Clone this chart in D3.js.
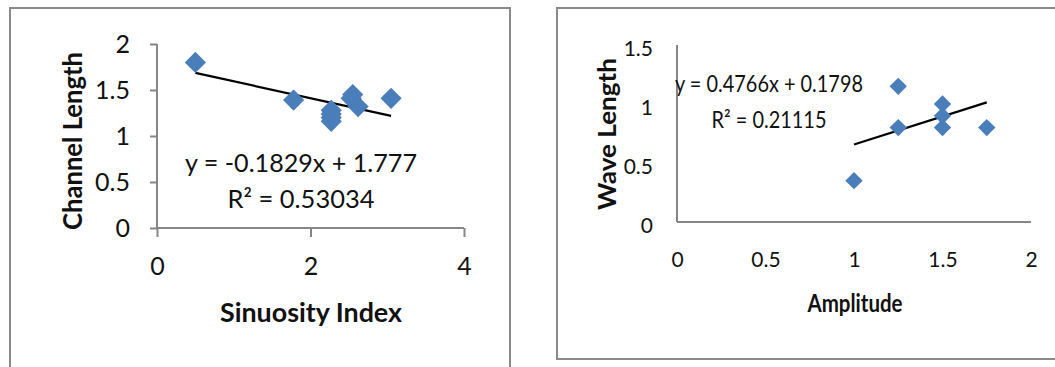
<!DOCTYPE html>
<html>
<head>
<meta charset="utf-8">
<script src="https://cdn.jsdelivr.net/npm/d3@7"></script>
<style>
  html, body { margin: 0; padding: 0; background: #fff; }
  svg { display: block; font-family: Lato, "Open Sans", sans-serif; }
</style>
</head>
<body>
<svg id="chart" width="1055" height="367"></svg>
<script>
// ---- Left chart data ----
const sinuosityIndex = [0.5, 1.78, 2.27, 2.27, 2.27, 2.27, 2.55, 2.53, 2.62, 3.05];
const channelLength  = [1.8, 1.39, 1.28, 1.24, 1.2, 1.16, 1.45, 1.41, 1.32, 1.41];
const leftXTicks = [0, 2, 4];
const leftYTicks = [0, 0.5, 1, 1.5, 2];
const leftTrend = [-0.1829, 1.777]; // slope, intercept
const leftEqText = ["y = -0.1829x + 1.777", "R² = 0.53034"];

// ---- Right chart data ----
const amplitude  = [1, 1.25, 1.25, 1.5, 1.5, 1.5, 1.75];
const waveLength = [0.35, 1.15, 0.8, 1.0, 0.9, 0.8, 0.8];
const rightXTicks = [0, 0.5, 1, 1.5, 2];
const rightYTicks = [0, 0.5, 1, 1.5];
const rightTrend = [0.4766, 0.1798];
const rightEqText = ["y = 0.4766x + 0.1798", "R² = 0.21115"];

const svg = d3.select("#chart");
svg.append("rect").attr("width", 1055).attr("height", 367).attr("fill", "#fff");

const axisColor = "#868686";
const markerColor = "#4a7ebb";
const textColor = "#111";

function panel(cfg) {
  const g = svg.append("g");
  g.append("rect")
    .attr("x", cfg.frame[0]).attr("y", cfg.frame[1])
    .attr("width", cfg.frame[2]).attr("height", cfg.frame[3])
    .attr("fill", "none").attr("stroke", "#8a8a8a").attr("stroke-width", 2);

  const x = d3.scaleLinear().domain(cfg.xDomain).range(cfg.xRange);
  const y = d3.scaleLinear().domain(cfg.yDomain).range(cfg.yRange);

  const xa = g.append("g").attr("transform", `translate(0,${cfg.yRange[0]})`)
    .call(d3.axisBottom(x).tickValues(cfg.xTicks).tickSize(cfg.xTickSize).tickPadding(cfg.xPad)
      .tickFormat(d3.format("~g")));
  xa.select(".domain").attr("stroke", axisColor).attr("stroke-width", 2)
    .attr("d", `M${cfg.xRange[0]},0H${cfg.xRange[1]}`);
  xa.selectAll(".tick line").attr("stroke", axisColor).attr("stroke-width", 2);
  xa.selectAll(".tick text").attr("fill", textColor).attr("font-size", cfg.tickFont)
    .attr("font-family", "Lato, sans-serif");

  const ya = g.append("g").attr("transform", `translate(${cfg.xRange[0]},0)`)
    .call(d3.axisLeft(y).tickValues(cfg.yTicks).tickSize(cfg.yTickSize).tickPadding(cfg.yPad)
      .tickFormat(d3.format("~g")));
  ya.select(".domain").attr("stroke", axisColor).attr("stroke-width", 2)
    .attr("d", `M0,${cfg.yRange[0]}V${cfg.yRange[1]}`);
  ya.selectAll(".tick line").attr("stroke", axisColor).attr("stroke-width", 2);
  ya.selectAll(".tick text").attr("fill", textColor).attr("font-size", cfg.tickFont)
    .attr("font-family", "Lato, sans-serif").attr("dy", cfg.yLabelDy);

  // trendline over the data's x range
  const xs = d3.extent(cfg.xs);
  const tl = xs.map(v => [v, cfg.trend[0] * v + cfg.trend[1]]);
  g.append("path")
    .attr("d", d3.line().x(d => x(d[0])).y(d => y(d[1]))(tl))
    .attr("stroke", "#000").attr("stroke-width", 2.2).attr("fill", "none");

  // diamond markers
  const sym = d3.symbol().type(d3.symbolSquare).size(cfg.markerSize);
  g.selectAll("path.pt").data(cfg.xs.map((v, i) => [v, cfg.ys[i]])).join("path")
    .attr("class", "pt")
    .attr("d", sym)
    .attr("transform", d => `translate(${x(d[0])},${y(d[1])}) rotate(45)`)
    .attr("fill", markerColor);

  // equation labels
  cfg.eq.forEach((t, i) => {
    g.append("text").attr("x", cfg.eqPos[0]).attr("y", cfg.eqPos[1] + i * cfg.eqGap)
      .attr("text-anchor", "middle").attr("dominant-baseline", "central")
      .attr("font-size", cfg.eqFont).attr("fill", textColor)
      .attr("textLength", cfg.eqLen[i]).attr("lengthAdjust", "spacingAndGlyphs")
      .text(t);
  });

  // axis titles
  g.append("text").attr("x", cfg.xTitlePos[0]).attr("y", cfg.xTitlePos[1])
    .attr("text-anchor", "middle").attr("dominant-baseline", "central")
    .attr("font-weight", "bold").attr("font-size", cfg.xTitleFont).attr("fill", textColor)
    .attr("textLength", cfg.xTitleLen).attr("lengthAdjust", "spacingAndGlyphs")
    .text(cfg.xTitle);
  g.append("text")
    .attr("transform", `translate(${cfg.yTitlePos[0]},${cfg.yTitlePos[1]}) rotate(-90)`)
    .attr("text-anchor", "middle").attr("dominant-baseline", "central")
    .attr("font-weight", "bold").attr("font-size", cfg.yTitleFont).attr("fill", textColor)
    .attr("textLength", cfg.yTitleLen).attr("lengthAdjust", "spacingAndGlyphs")
    .text(cfg.yTitle);
}

panel({
  frame: [10, 8, 500, 370],
  xDomain: [0, 4], xRange: [157, 464],
  yDomain: [0, 2], yRange: [228, 44],
  xTicks: leftXTicks, yTicks: leftYTicks,
  xTickSize: 9, yTickSize: 7, xPad: 20, yPad: 20, yLabelDy: "0.34em",
  tickFont: 25,
  xs: sinuosityIndex, ys: channelLength, trend: leftTrend,
  markerSize: 225,
  eq: leftEqText, eqLen: [232, 147], eqPos: [301, 162], eqGap: 36, eqFont: 24.5,
  xTitle: "Sinuosity Index", xTitlePos: [311, 312], xTitleFont: 26, xTitleLen: 182,
  yTitle: "Channel Length", yTitlePos: [72, 141], yTitleFont: 26, yTitleLen: 178
});

panel({
  frame: [557, 8, 520, 351],
  xDomain: [0, 2], xRange: [677, 1031],
  yDomain: [0, 1.5], yRange: [222, 45],
  xTicks: rightXTicks, yTicks: rightYTicks,
  xTickSize: 0, yTickSize: 0, xPad: 30, yPad: 24, yLabelDy: "0.5em",
  tickFont: 21,
  xs: amplitude, ys: waveLength, trend: rightTrend,
  markerSize: 150,
  eq: rightEqText, eqLen: [188, 115], eqPos: [769, 83], eqGap: 36, eqFont: 23,
  xTitle: "Amplitude", xTitlePos: [855, 302], xTitleFont: 24, xTitleLen: 95,
  yTitle: "Wave Length", yTitlePos: [606, 134], yTitleFont: 25, yTitleLen: 152
});
</script>
</body>
</html>
